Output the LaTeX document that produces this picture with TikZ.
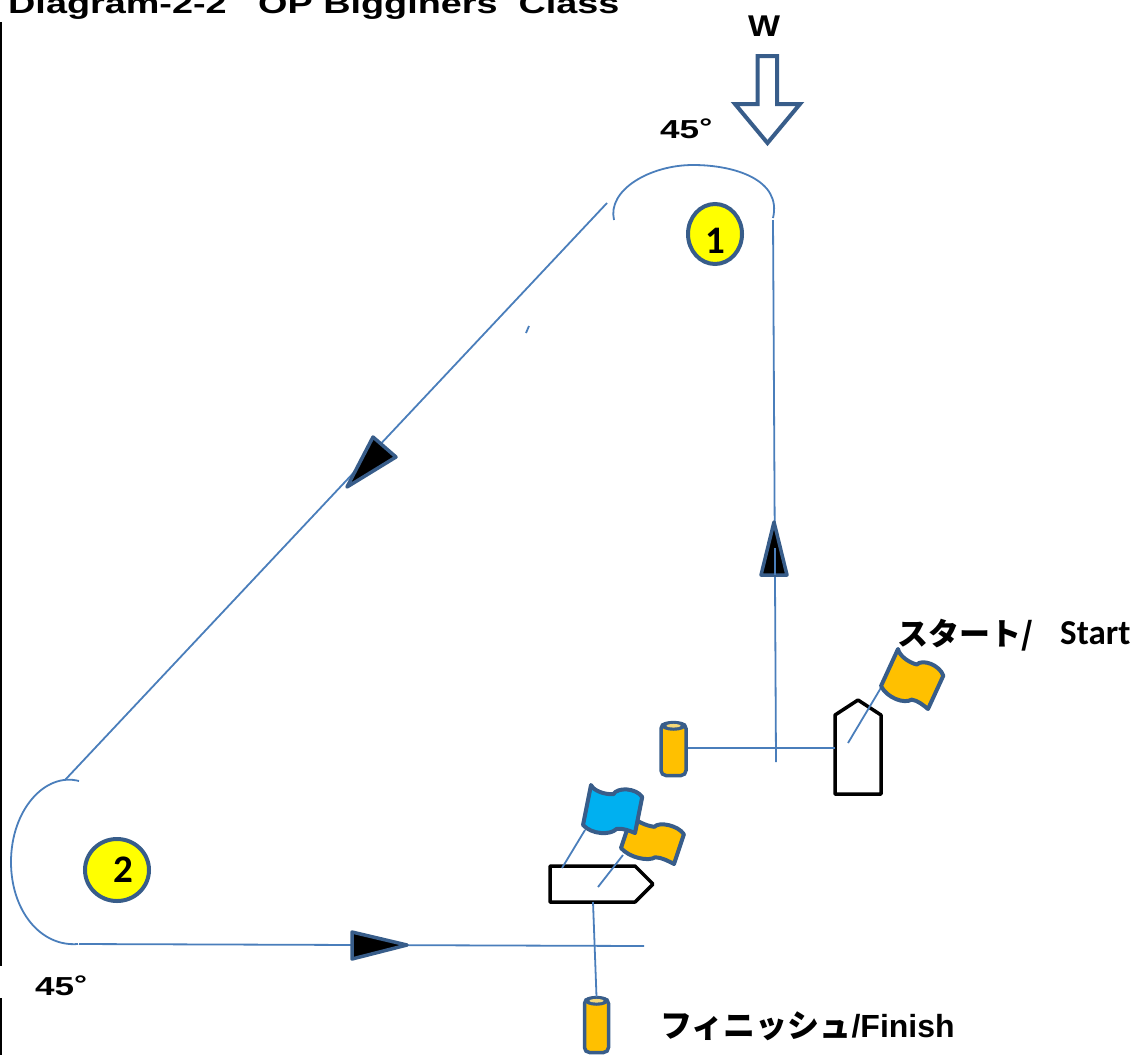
\documentclass[tikz,border=0pt]{standalone}
\usepackage{fontspec}
\setmainfont{Liberation Sans}
\newfontfamily\widefont[FakeStretch=1.35]{Liberation Sans}
\newfontfamily\windfont[FakeStretch=1.13]{Liberation Sans}
\newfontfamily\calfont{Carlito}
\newfontfamily\cjkfont{Noto Sans CJK JP}
\usetikzlibrary{shapes.geometric,positioning}
\definecolor{courseblue}{HTML}{4A7EBB}
\definecolor{edgeblue}{HTML}{385D8A}
\definecolor{flagorange}{HTML}{FFC000}
\definecolor{flagblue}{HTML}{00B0F0}
\definecolor{markyellow}{HTML}{FFFF00}
\definecolor{pinlight}{HTML}{F5D878}
\tikzset{
	course/.style={draw=courseblue, line width=1.8pt},
	heading/.style={anchor=base west, inner sep=0pt, font=\widefont\bfseries\fontsize{26}{26}\selectfont},
	marker/.style={ellipse, draw=edgeblue, line width=4pt, fill=markyellow, inner sep=0pt},
	digit/.style={inner sep=0pt, font=\calfont\bfseries\fontsize{39}{39}\selectfont},
	pinmark/.style={rectangle, rounded corners=5pt, draw=edgeblue, line width=3.5pt, fill=flagorange, inner sep=0pt},
	pincap/.style={fill=edgeblue},
	pinhole/.style={fill=pinlight},
	pointer/.style={draw=edgeblue, fill=black, line width=3.5pt, line join=round},
	boat/.style={draw=black, fill=white, line width=3.5pt, line join=round},
	flagcloth/.style={draw=edgeblue, line width=4pt, line join=round}
}
\newcommand{\flagshape}[4]{%
	\begin{scope}[shift={(#1)}, x={(#2)}, y={(#3)}]
		\path[flagcloth, fill=#4] (0,0) .. controls (.08,.14) and (.3,.18) .. (.45,.14)
			.. controls (.5,-.05) and (.85,-.1) .. (1,.1) -- (1,1)
			.. controls (.9,.97) and (.75,.92) .. (.64,.97)
			.. controls (.55,1.15) and (.2,1.2) .. (0,1) -- cycle;
	\end{scope}}

\begin{document}
\begin{tikzpicture}[x=1pt, y=-1pt]
	\useasboundingbox (0,0) rectangle (1139,1055);

	\node[heading, font=\widefont\bfseries\fontsize{28}{28}\selectfont] (title) at (8,13) {Diagram-2-2\ \ \ OP Bigginers\ \ Class};
	\node[heading, anchor=base, font=\windfont\bfseries\fontsize{30}{30}\selectfont] (wind) at (764,36) {W};
	\node[heading] (angleone) at (660,138) {45\raisebox{3pt}{\fontsize{24}{24}\selectfont°}};
	\node[heading] (angletwo) at (35,995) {45\raisebox{3pt}{\fontsize{24}{24}\selectfont°}};

	\coordinate (edgetop) at (1,22);
	\coordinate (edgemid) at (1,966);
	\coordinate (edgelow) at (1,998);
	\coordinate (edgeend) at (1,1055);
	\draw[line width=2pt] (edgetop) -- (edgemid) (edgelow) -- (edgeend);

	\draw[draw=edgeblue, fill=white, line width=4pt] (757.5,56) -- (777,56) -- (777,104) -- (800,104)
		-- (767.5,143) -- (735,104) -- (757.5,104) -- cycle;

	\node[marker, minimum width=54pt, minimum height=60pt,
		label={[digit, yshift=-7pt]center:1}] (markone) at (715,234) {};
	\node[marker, minimum width=64pt, minimum height=62pt,
		label={[digit, xshift=6pt]center:2}] (marktwo) at (117,870) {};

	\coordinate (arconestart) at (614,220);
	\coordinate (arconeend) at (773,218);
	\coordinate (legupper) at (607,203);
	\coordinate (leglower) at (65,780);
	\coordinate (arctwostart) at (79,781);
	\coordinate (arctwoend) at (78,944);
	\coordinate (legstart) at (79,944);
	\coordinate (legend) at (644,946);
	\coordinate (riseupper) at (773,220);
	\coordinate (riselower) at (776,762);
	\coordinate (riseinner) at (775,548);

	\path[course] (arconestart) .. controls (607,190) and (650,165) .. (693,165)
		.. controls (735,165) and (782,180) .. (arconeend);
	\path[course] (arctwostart) .. controls (45,772) and (11,810) .. (11,862)
		.. controls (11,910) and (40,947) .. (arctwoend);
	\path[course] (legupper) -- (leglower);
	\path[course] (legstart) -- (legend);
	\path[course] (riseupper) -- (riselower);
	\path[course] (526,333) -- (529,326);

	\path[pointer] (373,437) -- (396,457) -- (347,487) -- cycle;
	\path[pointer] (774,522) -- (787,575) -- (761,575) -- cycle;
	\path[pointer] (352,932) -- (407,945) -- (352,959) -- cycle;
	\path[course] (775,575) -- (riseinner);

	\node[pinmark, minimum width=25pt, minimum height=52pt] (pinstart) at (673.5,749.5) {};
	\node[pinmark, minimum width=24pt, minimum height=54pt] (pinfinish) at (596.5,1025.5) {};
	\path[pincap] (pinstart.north) ++(0,4) ellipse (12.5pt and 5pt);
	\path[pincap] (pinfinish.north) ++(0,4) ellipse (12pt and 5pt);
	\path[pinhole] (pinstart.north) ++(0,4) ellipse (7pt and 1.8pt);
	\path[pinhole] (pinfinish.north) ++(0,4) ellipse (7pt and 1.8pt);

	\path[boat] (835,715) -- (858,700) -- (881,715) -- (881,794) -- (835,794) -- cycle;
	\coordinate (startside) at (835,748);
	\path[course] (pinstart.east |- startside) -- (startside);
	\coordinate (startfoot) at (848,743);
	\coordinate (starttop) at (882,686);
	\path[course] (startfoot) -- (starttop);
	\flagshape{898,649}{47pt,-23pt}{-17pt,-37pt}{flagorange}

	\path[boat] (550,866) -- (635,866) -- (653,884) -- (635,902) -- (550,902) -- cycle;
	\coordinate (finishside) at (593,902);
	\path[course] (finishside) -- (pinfinish.north);
	\coordinate (bluefoot) at (562,868);
	\coordinate (bluetop) at (585,830);
	\path[course] (bluefoot) -- (bluetop);
	\coordinate (orangefoot) at (598,887);
	\coordinate (orangetop) at (623,855);
	\path[course] (orangefoot) -- (orangetop);
	\flagshape{632,815}{53pt,-16pt}{-11pt,-33pt}{flagorange}
	\flagshape{591,785}{52pt,-8pt}{-8pt,-40pt}{flagblue}

	\node[anchor=base west, inner sep=0pt, font=\cjkfont\bfseries\fontsize{31}{31}\selectfont] (startjp) at (897,645) {スタート/};
	\node[anchor=base west, inner sep=0pt, font=\calfont\bfseries\fontsize{35}{35}\selectfont] (starten) at (1060,644) {Start};
	\node[anchor=base west, inner sep=0pt, font=\bfseries\fontsize{32}{32}\selectfont] (finishlabel) at (660,1037) {{\cjkfont フィニッシュ}/Finish};
\end{tikzpicture}
\end{document}
